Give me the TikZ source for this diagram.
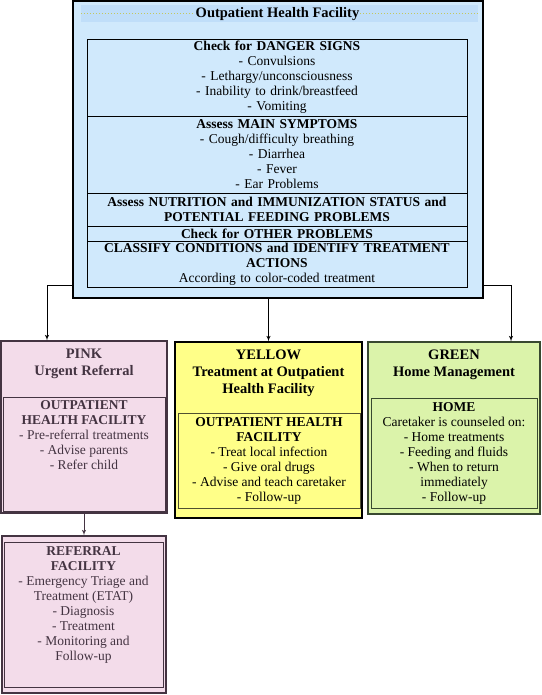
\documentclass[tikz,border=0pt]{standalone}
\usepackage{fontspec}
\setmainfont{Liberation Serif}
\usetikzlibrary{shapes,arrows,positioning,calc}
\definecolor{facblue}{RGB}{208,233,252}
\definecolor{bandblue}{RGB}{192,222,249}
\definecolor{bandline}{RGB}{196,200,96}
\definecolor{pinkfill}{RGB}{243,220,234}
\definecolor{pinkdark}{RGB}{68,52,66}
\definecolor{yellowfill}{RGB}{255,255,136}
\definecolor{yellowdark}{RGB}{80,80,48}
\definecolor{greenfill}{RGB}{219,243,170}
\definecolor{greendark}{RGB}{56,72,48}
\tikzset{
facility/.style = {draw, line width=1.3pt, fill=facblue, rectangle, inner sep=0pt},
band/.style = {fill=bandblue, rectangle, inner sep=0pt},
title/.style = {fill=bandblue, inner sep=1pt, font=\fontsize{14.5}{17}\selectfont\bfseries},
section/.style = {draw, line width=0.9pt, fill=facblue, rectangle, minimum width=380pt, inner sep=0pt, outer sep=0pt, text width=376pt, align=center, font=\fontsize{13.5}{15}\selectfont},
pinkbox/.style = {draw=pinkdark, line width=1.1pt, fill=pinkfill, rectangle, inner sep=0pt},
pinkinner/.style = {draw=pinkdark, line width=1pt, fill=pinkfill, rectangle, inner sep=0pt},
pinktext/.style = {text=pinkdark, inner sep=0pt, align=center, font=\fontsize{13.5}{15}\selectfont},
yellowbox/.style = {draw=black, line width=1.1pt, fill=yellowfill, rectangle, inner sep=0pt},
yellowinner/.style = {draw=yellowdark, line width=1pt, fill=yellowfill, rectangle, inner sep=0pt, align=center, font=\fontsize{13.5}{15}\selectfont},
greenbox/.style = {draw=greendark, line width=1.1pt, fill=greenfill, rectangle, inner sep=0pt},
greeninner/.style = {draw=greendark, line width=1pt, fill=greenfill, rectangle, inner sep=0pt, align=center, font=\fontsize{13.5}{15}\selectfont},
headtext/.style = {inner sep=0pt, align=center, font=\fontsize{14.5}{17}\selectfont\bfseries},
line/.style = {draw, line width=0.9pt}
}
\begin{document}
\begin{tikzpicture}[x=1pt, y=-1pt, >=latex']
\useasboundingbox (0,0) rectangle (541,695);

                \node [facility, minimum width=410pt, minimum height=297pt] (facility) at (278,149.5) {};
                \node [band, minimum width=397pt, minimum height=17pt] (band) at (279.5,13.5) {};
                \draw [bandline, dotted, line width=1pt] (band.west) -- (band.east);
                \node [title] (title) at (277.5,14) {Outpatient Health Facility};

                \node [section, minimum height=77pt] (danger) at (277,77.5) {\textbf{Check for DANGER SIGNS}\\- Convulsions\\- Lethargy/unconsciousness\\- Inability to drink/breastfeed\\- Vomiting};
                \node [section, minimum height=77pt, below=0pt of danger] (symptoms) {\textbf{Assess MAIN SYMPTOMS}\\- Cough/difficulty breathing\\- Diarrhea\\- Fever\\- Ear Problems};
                \node [section, minimum height=33pt, below=0pt of symptoms] (nutrition) {\textbf{Assess NUTRITION and IMMUNIZATION STATUS and}\\\textbf{POTENTIAL FEEDING PROBLEMS}};
                \node [section, minimum height=15pt, below=0pt of nutrition] (other) {\textbf{Check for OTHER PROBLEMS}};
                \node [section, minimum height=46pt, below=0pt of other] (classify) {\textbf{CLASSIFY CONDITIONS and IDENTIFY TREATMENT}\\\textbf{ACTIONS}\\According to color-coded treatment};

                \node [pinkbox, minimum width=166pt, minimum height=172pt] (pink) at (84,427) {};
                \node [headtext, text=pinkdark, below=8pt of pink.north] (pinkhead) {PINK\\Urgent Referral};
                \node [pinkinner, minimum width=162pt, minimum height=114pt] (pinkfac) at (84,454) {};
                \node [pinktext, below=4pt of pinkfac.north] (pinklist) {\textbf{OUTPATIENT}\\\textbf{HEALTH FACILITY}\\- Pre-referral treatments\\- Advise parents\\- Refer child};

                \node [yellowbox, minimum width=187pt, minimum height=176pt] (yellow) at (268.5,430) {};
                \node [headtext, below=8pt of yellow.north] (yellowhead) {YELLOW\\Treatment at Outpatient\\Health Facility};
                \node [yellowinner, minimum width=182pt, minimum height=95pt] (yellowfac) at (269,460.5) {\textbf{OUTPATIENT HEALTH}\\\textbf{FACILITY}\\- Treat local infection\\- Give oral drugs\\- Advise and teach caretaker\\- Follow-up};

                \node [greenbox, minimum width=172pt, minimum height=172pt] (green) at (454,428) {};
                \node [headtext, below=8pt of green.north] (greenhead) {GREEN\\Home Management};
                \node [greeninner, minimum width=166pt, minimum height=110pt] (home) at (454,453) {\textbf{HOME}\\Caretaker is counseled on:\\- Home treatments\\- Feeding and fluids\\- When to return\\immediately\\- Follow-up};

                \node [pinkbox, minimum width=164pt, minimum height=157pt] (referral) at (84,614.5) {};
                \node [pinkinner, minimum width=159pt, minimum height=145pt] (referralin) at (83.5,614.5) {};
                \node [pinktext, below=5pt of referralin.north] (referrallist) {\textbf{REFERRAL}\\\textbf{FACILITY}\\- Emergency Triage and\\Treatment (ETAT)\\- Diagnosis\\- Treatment\\- Monitoring and\\Follow-up};

                \draw [line, ->] ([yshift=13pt]facility.south west) -| ([xshift=-37pt]pink.north);
                \draw [line, ->] (facility.south -| yellow.north) -- (yellow.north);
                \draw [line, ->] ([yshift=13pt]facility.south east) -| ([xshift=57pt]green.north);
                \draw [line, ->, pinkdark] (pink.south) -- (referral.north);
            \end{tikzpicture}
\end{document}
